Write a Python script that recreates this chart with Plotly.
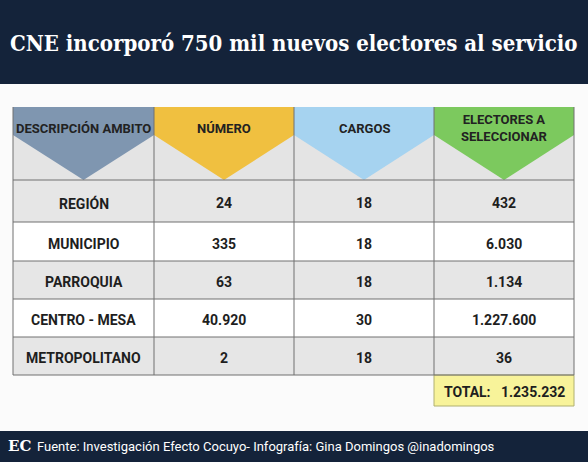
import plotly.graph_objects as go

title = "CNE incorporó 750 mil nuevos electores al servicio"
headers = ["DESCRIPCIÓN AMBITO", "NÚMERO", "CARGOS", "ELECTORES A<br>SELECCIONAR"]
header_colors = ["#7f96b0", "#f0c040", "#a6d3f0", "#7cc95e"]
ambitos = ["REGIÓN", "MUNICIPIO", "PARROQUIA", "CENTRO - MESA", "METROPOLITANO"]
numero = ["24", "335", "63", "40.920", "2"]
cargos = ["18", "18", "18", "30", "18"]
electores = ["432", "6.030", "1.134", "1.227.600", "36"]
total = "1.235.232"
footer = "Fuente: Investigación Efecto Cocuyo- Infografía: Gina Domingos @inadomingos"

W, H = 588, 462
cols = [13, 154, 294, 434, 574]
rows = [180, 222, 261, 299, 337, 375]
row_fill = ["#e6e6e6", "#ffffff", "#e6e6e6", "#ffffff", "#e6e6e6"]
FONT = "Roboto, sans-serif"

shapes, ann = [], []
def rect(x0, y0, x1, y1, fill, line=None, lw=0):
    shapes.append(dict(type="rect", xref="x", yref="y", x0=x0, y0=y0, x1=x1, y1=y1,
                       fillcolor=fill, line=dict(color=line or fill, width=lw), layer="below"))

rect(0, 0, W, H, "#fbfbfb")
rect(0, 0, W, 84, "#14233a")
rect(0, 431, W, H, "#14233a")
rect(cols[0], 107, cols[4], rows[0], "#e4e4e4")
for i in range(4):
    x0, x1 = cols[i], cols[i + 1]
    xm = (x0 + x1) / 2
    path = f"M{x0},107 L{x1},107 L{x1},135 L{xm},180 L{x0},135 Z"
    shapes.append(dict(type="path", xref="x", yref="y", path=path,
                       fillcolor=header_colors[i], line=dict(width=0)))
    ann.append(dict(x=xm, y=128, text=f"<b>{headers[i]}</b>", showarrow=False,
                    font=dict(family=FONT, size=13, color="#222")))
for r in range(5):
    rect(cols[0], rows[r], cols[4], rows[r + 1], row_fill[r])
    vals = [ambitos[r], numero[r], cargos[r], electores[r]]
    for c in range(4):
        ann.append(dict(x=(cols[c] + cols[c + 1]) / 2, y=(rows[r] + rows[r + 1]) / 2 + 2,
                        text=f"<b>{vals[c]}</b>", showarrow=False,
                        font=dict(family=FONT, size=14, color="#1e1e1e")))
for y in rows:
    shapes.append(dict(type="line", xref="x", yref="y", x0=cols[0], x1=cols[4], y0=y, y1=y,
                       line=dict(color="#707070", width=1)))
for x in cols:
    shapes.append(dict(type="line", xref="x", yref="y", x0=x, x1=x, y0=107, y1=rows[-1],
                       line=dict(color="#707070", width=1)))
rect(cols[3], rows[-1], cols[4], 406, "#f8f39a", "#b0b070", 1)
ann.append(dict(x=(cols[3] + cols[4]) / 2, y=392, text=f"<b>TOTAL:   {total}</b>", showarrow=False,
                font=dict(family=FONT, size=14, color="#1e1e1e")))
ann.append(dict(x=294, y=43, text=f"<b>{title}</b>", showarrow=False,
                font=dict(family="DejaVu Serif Condensed, DejaVu Serif, serif", size=22, color="white")))
ann.append(dict(x=6, y=446, xanchor="left", text="<b>EC</b>", showarrow=False,
                font=dict(family="DejaVu Serif", size=15, color="white")))
ann.append(dict(x=35, y=446, xanchor="left", text=footer, showarrow=False,
                font=dict(family=FONT, size=13, color="white")))

fig = go.Figure()
fig.update_layout(width=W, height=H, margin=dict(l=0, r=0, t=0, b=0),
                  xaxis=dict(range=[0, W], visible=False, fixedrange=True),
                  yaxis=dict(range=[H, 0], visible=False, fixedrange=True),
                  plot_bgcolor="#fbfbfb", paper_bgcolor="#fbfbfb",
                  shapes=shapes, annotations=ann, showlegend=False)
fig.write_html("out.html", config={"displayModeBar": False},
               post_script="document.body.style.margin='0';document.body.style.overflow='hidden';")
